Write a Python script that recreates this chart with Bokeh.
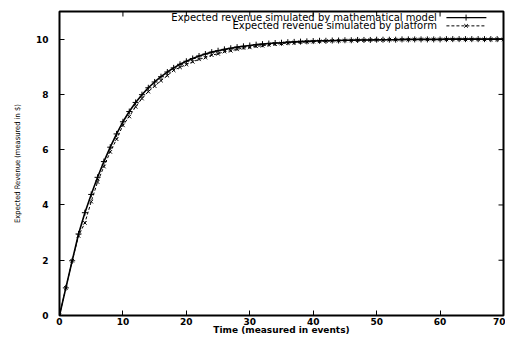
import math
from bokeh.plotting import figure
from bokeh.models import Range1d, FixedTicker, Label
from bokeh.embed import file_html
from bokeh.resources import INLINE

# ---- data ----
time_events = list(range(71))

model_revenue = [
    0.0, 1.0, 1.98, 2.95, 3.72, 4.38, 5.0, 5.57, 6.09, 6.57,
    7.01, 7.38, 7.71, 7.99, 8.24, 8.45, 8.64, 8.81, 8.96, 9.09,
    9.2, 9.3, 9.39, 9.46, 9.53, 9.58, 9.63, 9.67, 9.71, 9.74,
    9.77, 9.8, 9.82, 9.84, 9.86, 9.87, 9.89, 9.9, 9.91, 9.92,
    9.93, 9.94, 9.94, 9.95, 9.95, 9.96, 9.96, 9.97, 9.97, 9.97,
    9.98, 9.98, 9.98, 9.98, 9.99, 9.99, 9.99, 9.99, 9.99, 9.99,
    9.99, 10.0, 10.0, 10.0, 10.0, 10.0, 10.0, 10.0, 10.0, 10.0,
    10.0,
]

platform_revenue = [
    0.0, 1.0, 1.98, 2.88, 3.35, 4.12, 4.83, 5.39, 5.92, 6.38,
    6.88, 7.2, 7.55, 7.85, 8.1, 8.3, 8.5, 8.68, 8.87, 8.98,
    9.08, 9.18, 9.27, 9.33, 9.42, 9.47, 9.55, 9.58, 9.63, 9.68,
    9.7, 9.74, 9.76, 9.8, 9.82, 9.84, 9.86, 9.87, 9.89, 9.9,
    9.91, 9.92, 9.93, 9.94, 9.94, 9.95, 9.95, 9.96, 9.96, 9.97,
    9.97, 9.97, 9.98, 9.98, 9.98, 9.98, 9.99, 9.99, 9.99, 9.99,
    9.99, 9.99, 9.99, 9.99, 9.99, 9.99, 9.99, 9.99, 9.99, 9.99,
    9.99,
]

x_ticks = [0, 10, 20, 30, 40, 50, 60, 70]
y_ticks = [0, 2, 4, 6, 8, 10]

series_labels = [
    "Expected revenue simulated by mathematical model",
    "Expected revenue simulated by platform",
]
x_title = "Time (measured in events)"
y_title = "Expected Revenue (measured in $)"

# ---- styling ----
X_MIN, X_MAX = 0, 70
Y_MIN, Y_MAX = 0, 11
TICK_FONT = "DejaVu Sans"
LEGEND_FONT = "DejaVu Sans"
YLABEL_FONT = "Liberation Sans Narrow, DejaVu Sans Condensed, sans-serif"

p = figure(
    width=505, height=337,
    output_backend="svg", toolbar_location=None,
    x_range=Range1d(X_MIN, X_MAX), y_range=Range1d(Y_MIN, Y_MAX),
    min_border_left=59, min_border_right=2,
    min_border_top=11, min_border_bottom=19,
)
p.background_fill_color = "white"
p.border_fill_color = "white"
p.outline_line_color = "black"
p.outline_line_width = 2
p.xgrid.visible = False
p.ygrid.visible = False

for ax in (p.xaxis[0], p.yaxis[0]):
    ax.axis_line_color = None
    ax.major_tick_in = 5
    ax.major_tick_out = 0
    ax.minor_tick_line_color = None
    ax.major_tick_line_width = 1
    ax.major_tick_line_color = "black"
    ax.major_label_text_font = TICK_FONT
    ax.major_label_text_font_style = "bold"
    ax.major_label_text_font_size = "9px"
    ax.major_label_text_color = "black"
    ax.axis_label_text_color = "black"

p.xaxis[0].ticker = FixedTicker(ticks=x_ticks)
p.yaxis[0].ticker = FixedTicker(ticks=y_ticks)
p.xaxis[0].major_label_standoff = 2
p.yaxis[0].major_label_standoff = 11

p.xaxis[0].axis_label = x_title
p.xaxis[0].axis_label_text_font = TICK_FONT
p.xaxis[0].axis_label_text_font_style = "bold"
p.xaxis[0].axis_label_text_font_size = "9px"
p.xaxis[0].axis_label_standoff = -3

p.yaxis[0].axis_label = y_title
p.yaxis[0].axis_label_text_font = YLABEL_FONT
p.yaxis[0].axis_label_text_font_style = "normal"
p.yaxis[0].axis_label_text_font_size = "7.5px"
p.yaxis[0].axis_label_standoff = 11

# mirrored inward ticks on top and right edges (half of each dash is clipped by the frame)
p.scatter(x_ticks, [Y_MAX] * len(x_ticks), marker="dash", angle=math.pi / 2,
          size=10, line_color="black", line_width=1)
p.scatter([X_MAX] * len(y_ticks), y_ticks, marker="dash",
          size=10, line_color="black", line_width=1)

# ---- series ----
p.line(time_events, model_revenue, line_color="black", line_width=1.6)
p.scatter(time_events, model_revenue, marker="cross", size=6,
          line_color="black", line_width=1)

p.line(time_events, platform_revenue, line_color="black", line_width=1,
       line_dash="3 2")
p.scatter(time_events, platform_revenue, marker="x", size=5,
          line_color="black", line_width=1)

# ---- legend (gnuplot style: text right-aligned, key sample on the right) ----
LEG_TEXT_X = 59.5
LEG_KEY_X0, LEG_KEY_X1, LEG_KEY_XM = 61.0, 67.3, 64.1
LEG_ROWS_Y = [10.78, 10.48]

for label, yy in zip(series_labels, LEG_ROWS_Y):
    p.add_layout(Label(
        x=LEG_TEXT_X, y=yy, text=label, text_align="right",
        text_baseline="middle", text_font=LEGEND_FONT,
        text_font_size="10px", text_color="black",
    ))

p.segment(x0=[LEG_KEY_X0], y0=[LEG_ROWS_Y[0]], x1=[LEG_KEY_X1], y1=[LEG_ROWS_Y[0]],
          line_color="black", line_width=1.2)
p.scatter([LEG_KEY_XM], [LEG_ROWS_Y[0]], marker="cross", size=6,
          line_color="black", line_width=1)
p.segment(x0=[LEG_KEY_X0], y0=[LEG_ROWS_Y[1]], x1=[LEG_KEY_X1], y1=[LEG_ROWS_Y[1]],
          line_color="black", line_width=1, line_dash="3 2")
p.scatter([LEG_KEY_XM], [LEG_ROWS_Y[1]], marker="x", size=5,
          line_color="black", line_width=1)

open("out.html", "w").write(file_html(p, INLINE))
